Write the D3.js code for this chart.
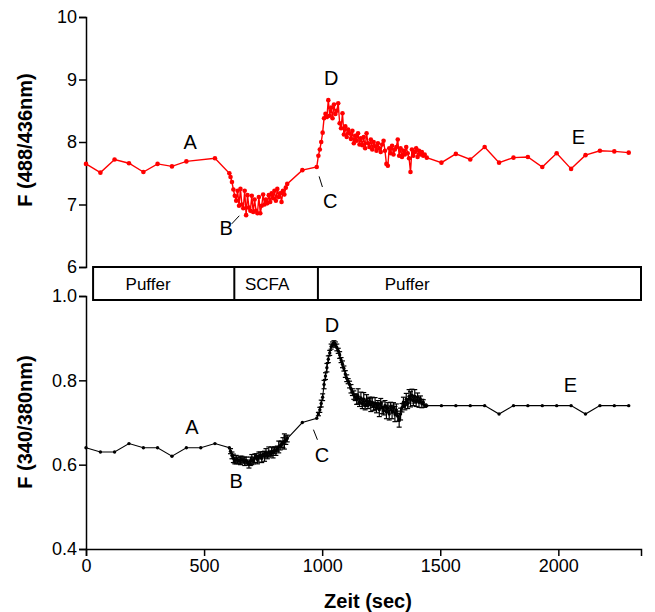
<!DOCTYPE html>
<html>
<head>
<meta charset="utf-8">
<script src="https://cdn.jsdelivr.net/npm/d3@7"></script>
<style>
  body { margin: 0; background: #fff; }
  svg { display: block; font-family: 'Liberation Sans', Arial, sans-serif; }
</style>
</head>
<body>
<script>
// measurement times (sec)
const startTimes = [0, 61, 121, 182, 243, 303, 364, 425, 486, 546, 607]
const scfaTimes = [612, 618, 624, 630, 636, 642, 648, 654, 660, 666,
  672, 678, 684, 690, 696, 702, 708, 714, 720, 726,
  732, 738, 744, 750, 756, 762, 768, 774, 780, 786,
  792, 798, 804, 810, 816, 822, 828, 834, 840, 846,
  852]
const washTimes = [916, 977]
const recoveryTimes = [984, 990, 996, 1002, 1008, 1014, 1020, 1026, 1032, 1038,
  1044, 1050, 1056, 1062, 1068, 1074, 1080, 1086, 1092, 1098,
  1104, 1110, 1116, 1122, 1128, 1134, 1140, 1146, 1152, 1158,
  1164, 1170, 1176, 1182, 1188, 1194, 1200, 1206, 1212, 1218,
  1224, 1230, 1236, 1242, 1248, 1254, 1260, 1266, 1272, 1278,
  1284, 1290, 1296, 1302, 1308, 1314, 1320, 1326, 1332, 1338,
  1344, 1350, 1356, 1362, 1368, 1374, 1380, 1386, 1392, 1398,
  1404, 1410, 1416, 1422, 1428, 1434]
const tailTimes = [1443, 1505, 1566, 1627, 1688, 1749, 1810, 1871, 1932, 1993, 2054, 2115, 2176, 2237, 2298]

// F (488/436nm) – red
const bcecfStart = [7.65, 7.51, 7.72, 7.66, 7.52, 7.65, 7.61, 7.69, null, 7.74, 7.5]
const bcecfScfa = [7.44, 7.36, 7.24, 7.14, 7.06, 7.22, 6.98, 7.25, 7.0, 6.94,
  7.22, 6.83, 7.15, 6.95, 6.9, 7.14, 6.88, 7.08, 6.9, 6.86,
  7.12, 6.86, 6.98, 7.16, 7.0, 7.08, 7.02, 7.15, 7.04, 7.18,
  7.1, 7.22, 7.06, 7.25, 7.12, 7.18, 7.04, 7.22, 7.16, 7.27,
  7.33]
const bcecfWash = [7.55, 7.6]
const bcecfRecovery = [7.78, 7.88, 8.0, 8.15, 8.38, 8.45, 8.4, 8.67, 8.42, 8.55,
  8.38, 8.6, 8.45, 8.5, 8.62, 8.3, 8.22, 8.46, 8.12, 8.25,
  8.08, 8.2, 8.14, 8.05, 8.18, 7.98, 8.1, 8.02, 8.14, 7.96,
  8.06, 7.95, 8.08, 7.9, 8.14, 7.98, 7.92, 8.04, 7.88, 8.0,
  7.93, 7.86, 7.98, 7.9, 7.84, 7.96, 8.02, 7.86, 7.65, 7.62,
  7.9, 7.82, 7.94, 7.8, 7.88, 7.92, 8.04, 7.78, 7.9, 7.76,
  7.86, 7.8, 7.92, 7.82, 7.74, 7.52, 7.88, 7.78, 7.84, 7.9,
  7.76, 7.86, 7.8, 7.84, 7.78, 7.8]
const bcecfTail = [7.75, 7.67, 7.81, 7.72, 7.92, 7.67, 7.75, 7.76, 7.6, 7.82, 7.57, 7.79, 7.86, 7.85, 7.83]

// F (340/380nm) – black, with error bars
const furaStart = [0.64, 0.63, 0.63, 0.65, 0.64, 0.64, 0.62, 0.64, 0.64, 0.65, 0.64]
const furaScfa = [0.632, 0.622, 0.615, 0.61, 0.612, 0.61, 0.61, 0.61, 0.612, 0.61,
  0.608, 0.61, 0.605, 0.6, 0.608, 0.612, 0.61, 0.615, 0.62, 0.612,
  0.618, 0.622, 0.615, 0.625, 0.62, 0.628, 0.622, 0.63, 0.626, 0.632,
  0.628, 0.634, 0.632, 0.638, 0.642, 0.645, 0.648, 0.652, 0.655, 0.658,
  0.662]
const furaScfaErr = [0.006, 0.008, 0.01, 0.008, 0.01, 0.006, 0.008, 0.01, 0.008, 0.006,
  0.01, 0.008, 0.006, 0.008, 0.01, 0.012, 0.008, 0.01, 0.006, 0.01,
  0.012, 0.008, 0.01, 0.006, 0.012, 0.01, 0.008, 0.012, 0.006, 0.01,
  0.012, 0.008, 0.01, 0.006, 0.014, 0.01, 0.008, 0.012, 0.018, 0.01,
  0.008]
const furaWash = [0.7, 0.71]
const furaRecovery = [0.72, 0.73, 0.745, 0.76, 0.79, 0.81, 0.83, 0.85, 0.865, 0.88,
  0.885, 0.888, 0.885, 0.878, 0.87, 0.86, 0.848, 0.838, 0.828, 0.815,
  0.805, 0.798, 0.79, 0.78, 0.772, 0.765, 0.76, 0.755, 0.762, 0.748,
  0.758, 0.745, 0.755, 0.74, 0.752, 0.745, 0.75, 0.742, 0.748, 0.738,
  0.745, 0.735, 0.742, 0.73, 0.745, 0.735, 0.728, 0.74, 0.725, 0.735,
  0.72, 0.738, 0.725, 0.735, 0.72, 0.73, 0.715, 0.705, 0.72, 0.735,
  0.748, 0.74, 0.755, 0.745, 0.762, 0.755, 0.765, 0.752, 0.762, 0.75,
  0.76, 0.748, 0.755, 0.745, 0.748, 0.74]
const furaRecoveryErr = [0.004, 0.006, 0.008, 0.008, 0.01, 0.008, 0.01, 0.008, 0.006, 0.006,
  0.006, 0.006, 0.006, 0.008, 0.006, 0.008, 0.006, 0.008, 0.006, 0.008,
  0.008, 0.006, 0.008, 0.01, 0.008, 0.01, 0.008, 0.012, 0.018, 0.01,
  0.014, 0.012, 0.016, 0.01, 0.014, 0.012, 0.01, 0.016, 0.012, 0.01,
  0.014, 0.012, 0.01, 0.016, 0.012, 0.014, 0.01, 0.012, 0.016, 0.012,
  0.014, 0.01, 0.016, 0.012, 0.018, 0.014, 0.012, 0.016, 0.014, 0.01,
  0.012, 0.01, 0.014, 0.012, 0.016, 0.018, 0.014, 0.012, 0.016, 0.012,
  0.01, 0.012, 0.008, 0.01, 0.006, 0.004]
const furaTail = [0.74, 0.74, 0.74, 0.74, 0.74, 0.72, 0.74, 0.74, 0.74, 0.74, 0.74, 0.72, 0.74, 0.74, 0.74]

// protocol bar
const phaseNames = ['Puffer', 'SCFA', 'Puffer']
const phaseBounds = [30, 628, 982, 2350]
const phaseLabelTimes = [263, 767, 1360]

const topTicks = [6, 7, 8, 9, 10]
const bottomTicks = [0.4, 0.6, 0.8, 1.0]
const xTicks = [0, 500, 1000, 1500, 2000]

// annotation letters: [label, time, value]
const topLabels = [['A', 441, 8.0], ['B', 593, 6.62], ['C', 1034, 7.06], ['D', 1038, 9.02], ['E', 2085, 8.08]]
const bottomLabels = [['A', 449, 0.69], ['B', 636, 0.562], ['C', 999, 0.624], ['D', 1041, 0.931], ['E', 2051, 0.79]]
const topLeaders = [[617, 6.69, 649, 6.82], [987, 7.45, 1001, 7.28]]
const bottomLeaders = [[963, 0.683, 980, 0.659]]

const allTimes = [].concat(startTimes, scfaTimes, washTimes, recoveryTimes, tailTimes)
const bcecfVals = [].concat(bcecfStart, bcecfScfa, bcecfWash, bcecfRecovery, bcecfTail)
const furaVals = [].concat(furaStart, furaScfa, furaWash, furaRecovery, furaTail)
const furaErr = [].concat(startTimes.map(() => 0), furaScfaErr, washTimes.map(() => 0), furaRecoveryErr, tailTimes.map(() => 0))

const topData = allTimes.map((t, i) => ({ t, v: bcecfVals[i] })).filter((d) => d.v != null)
const bottomData = allTimes.map((t, i) => ({ t, v: furaVals[i], e: furaErr[i] }))

const w = 655
const h = 612

const x = d3.scaleLinear().domain([0, 2350]).range([86, 641])
const yTop = d3.scaleLinear().domain([6, 10]).range([267, 17])
const yBot = d3.scaleLinear().domain([0.4, 1.0]).range([549, 296])

const svg = d3.select('body').append('svg').attr('width', w).attr('height', h)

const styleAxis = (g) => {
  g.selectAll('path').attr('stroke-width', 1.5)
  g.selectAll('line').attr('stroke-width', 1.5)
  g.selectAll('text').attr('font-size', 18).attr('fill', '#000').attr('font-family', "'Liberation Sans', Arial, sans-serif")
}

svg.append('g')
  .attr('transform', 'translate(86,0)')
  .call(d3.axisLeft(yTop).tickValues(topTicks).tickFormat(d3.format('d')).tickSizeOuter(0).tickSize(7).tickPadding(2))
  .call(styleAxis)

svg.append('g')
  .attr('transform', 'translate(86,0)')
  .call(d3.axisLeft(yBot).tickValues(bottomTicks).tickFormat(d3.format('.1f')).tickSizeOuter(0).tickSize(7).tickPadding(2))
  .call(styleAxis)

svg.append('g')
  .attr('transform', 'translate(0,549)')
  .call(d3.axisBottom(x).tickValues(xTicks).tickFormat(d3.format('d')).tickSizeOuter(0).tickSize(7).tickPadding(3))
  .call(styleAxis)

// protocol bar
const bar = svg.append('g')
bar.append('rect')
  .attr('x', x(phaseBounds[0])).attr('y', 267)
  .attr('width', x(phaseBounds[3]) - x(phaseBounds[0])).attr('height', 33)
  .attr('fill', 'none').attr('stroke', '#000').attr('stroke-width', 2)
bar.selectAll('line.div')
  .data(phaseBounds.slice(1, 3))
  .enter().append('line')
  .attr('x1', (d) => x(d)).attr('x2', (d) => x(d))
  .attr('y1', 267).attr('y2', 300)
  .attr('stroke', '#000').attr('stroke-width', 2)
bar.selectAll('text')
  .data(phaseNames)
  .enter().append('text')
  .attr('x', (d, i) => x(phaseLabelTimes[i]))
  .attr('y', 290)
  .attr('text-anchor', 'middle')
  .attr('font-size', 17)
  .text((d) => d)

// red trace
svg.append('path')
  .datum(topData)
  .attr('fill', 'none')
  .attr('stroke', '#ff0000')
  .attr('stroke-width', 1.4)
  .attr('d', d3.line().x((d) => x(d.t)).y((d) => yTop(d.v)))
svg.append('g').selectAll('circle')
  .data(topData)
  .enter().append('circle')
  .attr('cx', (d) => x(d.t)).attr('cy', (d) => yTop(d.v))
  .attr('r', 2.3).attr('fill', '#ff0000')

// black trace with error bars
const errs = svg.append('g').attr('stroke', '#000').attr('stroke-width', 1.2)
const withErr = bottomData.filter((d) => d.e > 0)
errs.selectAll('line.bar')
  .data(withErr)
  .enter().append('line')
  .attr('x1', (d) => x(d.t)).attr('x2', (d) => x(d.t))
  .attr('y1', (d) => yBot(d.v - d.e)).attr('y2', (d) => yBot(d.v + d.e))
errs.selectAll('line.capTop')
  .data(withErr)
  .enter().append('line')
  .attr('x1', (d) => x(d.t) - 2.5).attr('x2', (d) => x(d.t) + 2.5)
  .attr('y1', (d) => yBot(d.v + d.e)).attr('y2', (d) => yBot(d.v + d.e))
errs.selectAll('line.capBot')
  .data(withErr)
  .enter().append('line')
  .attr('x1', (d) => x(d.t) - 2.5).attr('x2', (d) => x(d.t) + 2.5)
  .attr('y1', (d) => yBot(d.v - d.e)).attr('y2', (d) => yBot(d.v - d.e))

svg.append('path')
  .datum(bottomData)
  .attr('fill', 'none')
  .attr('stroke', '#000')
  .attr('stroke-width', 1.1)
  .attr('d', d3.line().x((d) => x(d.t)).y((d) => yBot(d.v)))
svg.append('g').selectAll('circle')
  .data(bottomData)
  .enter().append('circle')
  .attr('cx', (d) => x(d.t)).attr('cy', (d) => yBot(d.v))
  .attr('r', 1.7).attr('fill', '#000')

// letters and leader lines
const letters = (labels, y) => {
  svg.append('g').selectAll('text')
    .data(labels)
    .enter().append('text')
    .attr('x', (d) => x(d[1])).attr('y', (d) => y(d[2]))
    .attr('text-anchor', 'middle')
    .attr('dominant-baseline', 'central')
    .attr('font-size', 20)
    .text((d) => d[0])
}
letters(topLabels, yTop)
letters(bottomLabels, yBot)

const leaders = (segs, y) => {
  svg.append('g').selectAll('line')
    .data(segs)
    .enter().append('line')
    .attr('x1', (d) => x(d[0])).attr('y1', (d) => y(d[1]))
    .attr('x2', (d) => x(d[2])).attr('y2', (d) => y(d[3]))
    .attr('stroke', '#000').attr('stroke-width', 1)
}
leaders(topLeaders, yTop)
leaders(bottomLeaders, yBot)

// axis titles
svg.append('text')
  .attr('transform', 'translate(32,140) rotate(-90)')
  .attr('text-anchor', 'middle')
  .attr('font-size', 20).attr('font-weight', 'bold')
  .text('F (488/436nm)')
svg.append('text')
  .attr('transform', 'translate(32,422) rotate(-90)')
  .attr('text-anchor', 'middle')
  .attr('font-size', 20).attr('font-weight', 'bold')
  .text('F (340/380nm)')
svg.append('text')
  .attr('x', 368).attr('y', 608)
  .attr('text-anchor', 'middle')
  .attr('font-size', 20).attr('font-weight', 'bold')
  .text('Zeit (sec)')
</script>
</body>
</html>
